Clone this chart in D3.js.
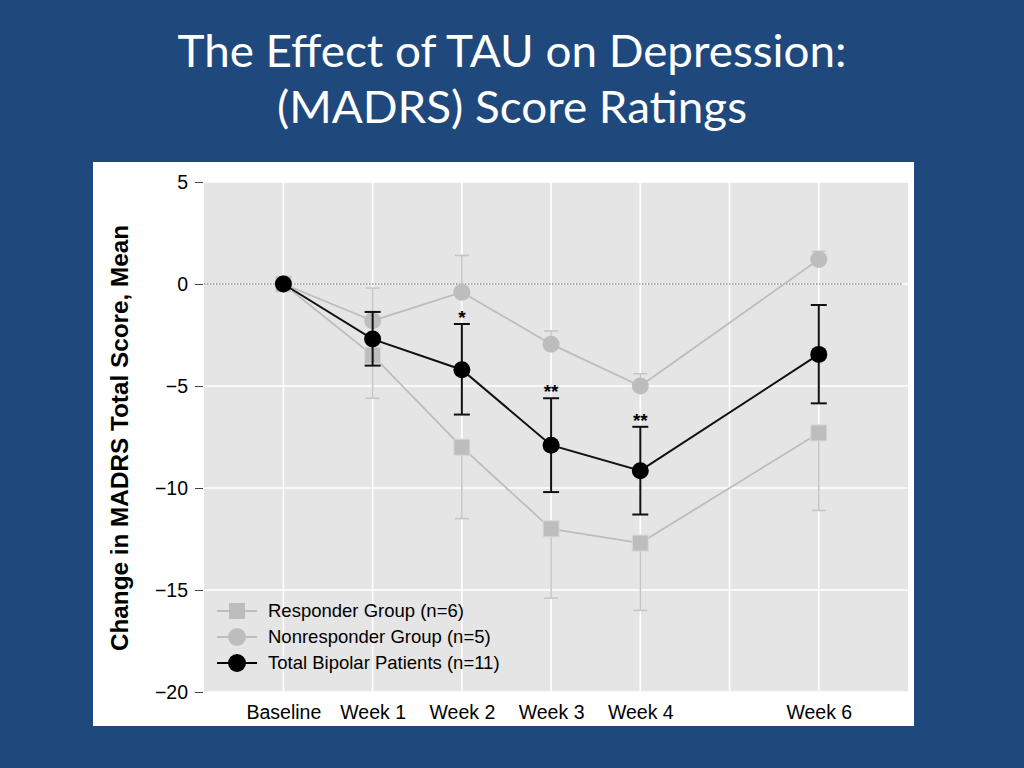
<!DOCTYPE html>
<html>
<head>
<meta charset="utf-8">
<script src="https://cdn.jsdelivr.net/npm/d3@7"></script>
<style>
  html, body { margin: 0; padding: 0; background: #1F497D; }
  svg { display: block; }
</style>
</head>
<body>
<svg id="chart" width="1024" height="768"></svg>
<script>

// weeks on the x axis (Week 5 has no data point, only a grid line)
var WEEKS = [0, 1, 2, 3, 4, 6];
var WEEK_LABELS = ['Baseline', 'Week 1', 'Week 2', 'Week 3', 'Week 4', 'Week 6'];
var GRID_WEEKS = [0, 1, 2, 3, 4, 5, 6];

var TOTAL_MEAN  = [0, -2.7, -4.2, -7.9, -9.15, -3.45];
var TOTAL_UPPER = [null, -1.37, -1.96, -5.6, -7.0, -1.03];
var TOTAL_LOWER = [null, -4.0, -6.4, -10.2, -11.3, -5.85];

var RESPONDER_MEAN  = [0, -3.5, -8.0, -12.0, -12.7, -7.3];
var RESPONDER_LOWER = [null, -5.6, -11.5, -15.4, -16.0, -11.1];

var NONRESPONDER_MEAN  = [0, -1.8, -0.4, -2.95, -5.0, 1.2];
var NONRESPONDER_UPPER = [null, -0.2, 1.4, -2.3, -4.4, 1.6];

var SIGNIFICANCE = ['', '', '*', '**', '**', ''];

var Y_TICKS = [5, 0, -5, -10, -15, -20];

var LEGEND_LABELS = ['Responder Group (n=6)', 'Nonresponder Group (n=5)', 'Total Bipolar Patients (n=11)'];

var GREY = '#bdbdbd';
var GREY_BAR = '#c6c6c6';
var LABEL_FONT = 'Arial, "Liberation Sans", sans-serif';

var svg = d3.select('#chart');

// slide title
var title = svg.append('g')
	.attr('fill', '#ffffff')
	.style('font-family', 'Lato, "Open Sans", sans-serif')
	.style('font-size', '44px');
title.append('text').attr('x', 512).attr('y', 67).attr('text-anchor', 'middle')
	.attr('textLength', 669).attr('lengthAdjust', 'spacingAndGlyphs')
	.text('The Effect of TAU on Depression:');
title.append('text').attr('x', 512).attr('y', 123).attr('text-anchor', 'middle')
	.attr('textLength', 470).attr('lengthAdjust', 'spacingAndGlyphs')
	.text('(MADRS) Score Ratings');

// white figure panel
svg.append('rect')
	.attr('x', 93).attr('y', 162).attr('width', 821).attr('height', 564)
	.attr('fill', '#ffffff');

const plot = {left: 204, right: 908, top: 182, bottom: 692};

var x = d3.scaleLinear().domain([-0.89, 7]).range([plot.left, plot.right]);
var y = d3.scaleLinear().domain([-20, 5]).range([plot.bottom, plot.top]);

svg.append('rect')
	.attr('x', plot.left).attr('y', plot.top)
	.attr('width', plot.right - plot.left).attr('height', plot.bottom - plot.top)
	.attr('fill', '#e5e5e5');

// grid
svg.append('g').selectAll('line')
	.data(Y_TICKS)
	.enter().append('line')
	.attr('x1', plot.left).attr('x2', plot.right)
	.attr('y1', d => y(d)).attr('y2', d => y(d))
	.attr('stroke', '#ffffff').attr('stroke-width', 1.6);
svg.append('g').selectAll('line')
	.data(GRID_WEEKS)
	.enter().append('line')
	.attr('x1', d => x(d)).attr('x2', d => x(d))
	.attr('y1', plot.top).attr('y2', plot.bottom)
	.attr('stroke', '#ffffff').attr('stroke-width', 1.6);

// axes (d3.format gives the wide unicode minus, like the original)
var yAxis = d3.axisLeft(y).tickValues(Y_TICKS).tickSize(8).tickPadding(7).tickFormat(d3.format('d'));
var gy = svg.append('g').attr('transform', `translate(${plot.left - 1},0)`).call(yAxis);
gy.select('.domain').remove();
gy.selectAll('line').attr('stroke', '#444444');
gy.selectAll('text').style('font-family', LABEL_FONT).style('font-size', '19.5px').attr('fill', '#000').attr('dy', '0.35em');

var xAxis = d3.axisBottom(x).tickValues(WEEKS).tickSize(0).tickPadding(13)
	.tickFormat((d, i) => WEEK_LABELS[i]);
var gx = svg.append('g').attr('transform', `translate(0,${plot.bottom})`).call(xAxis);
gx.select('.domain').remove();
gx.selectAll('text').style('font-family', LABEL_FONT).style('font-size', '19.5px').attr('fill', '#000');

// y axis title
svg.append('text')
	.attr('transform', 'translate(128,438) rotate(-90)')
	.attr('text-anchor', 'middle')
	.style('font-family', LABEL_FONT)
	.style('font-size', '24.3px').style('font-weight', 'bold')
	.text('Change in MADRS Total Score, Mean');

// dotted zero reference
svg.append('line')
	.attr('x1', plot.left).attr('x2', plot.right - 5)
	.attr('y1', y(0)).attr('y2', y(0))
	.attr('stroke', '#555555').attr('stroke-width', 1).attr('stroke-dasharray', '1.5,1.5');

var line = d3.line().x((d, i) => x(WEEKS[i])).y(d => y(d));

function errorBars(values, ends, color, width, capHalf) {
	var g = svg.append('g').attr('stroke', color).attr('stroke-width', width);
	WEEKS.forEach(function(w, i) {
		if (ends[i] === null) return;
		g.append('line').attr('x1', x(w)).attr('x2', x(w)).attr('y1', y(values[i])).attr('y2', y(ends[i]));
		g.append('line').attr('x1', x(w) - capHalf).attr('x2', x(w) + capHalf).attr('y1', y(ends[i])).attr('y2', y(ends[i]));
	});
}

// grey groups
errorBars(RESPONDER_MEAN, RESPONDER_LOWER, GREY_BAR, 1.6, 7);
errorBars(NONRESPONDER_MEAN, NONRESPONDER_UPPER, GREY_BAR, 1.6, 7);

svg.append('path').datum(RESPONDER_MEAN).attr('d', line)
	.attr('fill', 'none').attr('stroke', GREY).attr('stroke-width', 1.8);
svg.append('path').datum(NONRESPONDER_MEAN).attr('d', line)
	.attr('fill', 'none').attr('stroke', GREY).attr('stroke-width', 1.8);

svg.append('g').selectAll('rect')
	.data(RESPONDER_MEAN)
	.enter().append('rect')
	.attr('x', (d, i) => x(WEEKS[i]) - 8).attr('y', d => y(d) - 8)
	.attr('width', 16).attr('height', 16)
	.attr('fill', GREY).attr('stroke', '#d8d8d8').attr('stroke-width', 1);
svg.append('g').selectAll('circle')
	.data(NONRESPONDER_MEAN)
	.enter().append('circle')
	.attr('cx', (d, i) => x(WEEKS[i])).attr('cy', d => y(d)).attr('r', 8.5)
	.attr('fill', GREY);

// total group
errorBars(TOTAL_MEAN, TOTAL_UPPER, '#111111', 2, 8);
errorBars(TOTAL_MEAN, TOTAL_LOWER, '#111111', 2, 8);

svg.append('path').datum(TOTAL_MEAN).attr('d', line)
	.attr('fill', 'none').attr('stroke', '#111111').attr('stroke-width', 2);
svg.append('g').selectAll('circle')
	.data(TOTAL_MEAN)
	.enter().append('circle')
	.attr('cx', (d, i) => x(WEEKS[i])).attr('cy', d => y(d)).attr('r', 8.5)
	.attr('fill', '#000000');

// significance stars
svg.append('g').selectAll('text')
	.data(SIGNIFICANCE)
	.enter().append('text')
	.attr('x', (d, i) => x(WEEKS[i]))
	.attr('y', (d, i) => TOTAL_UPPER[i] === null ? 0 : y(TOTAL_UPPER[i]))
	.attr('text-anchor', 'middle')
	.style('font-family', LABEL_FONT)
	.style('font-size', '19px').style('font-weight', 'bold')
	.text(d => d);

// legend
var legend = svg.append('g').attr('transform', 'translate(217,611)');
var legendStyles = [
	{color: GREY, shape: 'square'},
	{color: GREY, shape: 'circle'},
	{color: '#000000', shape: 'circle'}
];
var items = legend.selectAll('g')
	.data(LEGEND_LABELS)
	.enter().append('g')
	.attr('transform', (d, i) => `translate(0,${i * 26})`);
items.append('line').attr('x1', 0).attr('x2', 40).attr('y1', 0).attr('y2', 0)
	.attr('stroke', (d, i) => legendStyles[i].color).attr('stroke-width', 2);
items.each(function(d, i) {
	var s = legendStyles[i];
	if (s.shape === 'square') {
		d3.select(this).append('rect').attr('x', 12).attr('y', -8).attr('width', 16).attr('height', 16).attr('fill', s.color);
	} else {
		d3.select(this).append('circle').attr('cx', 20).attr('cy', 0).attr('r', 9).attr('fill', s.color);
	}
});
items.append('text').attr('x', 51).attr('y', 0).attr('dy', '0.35em')
	.style('font-family', LABEL_FONT)
	.style('font-size', '18.5px')
	.text(d => d);

</script>
</body>
</html>
